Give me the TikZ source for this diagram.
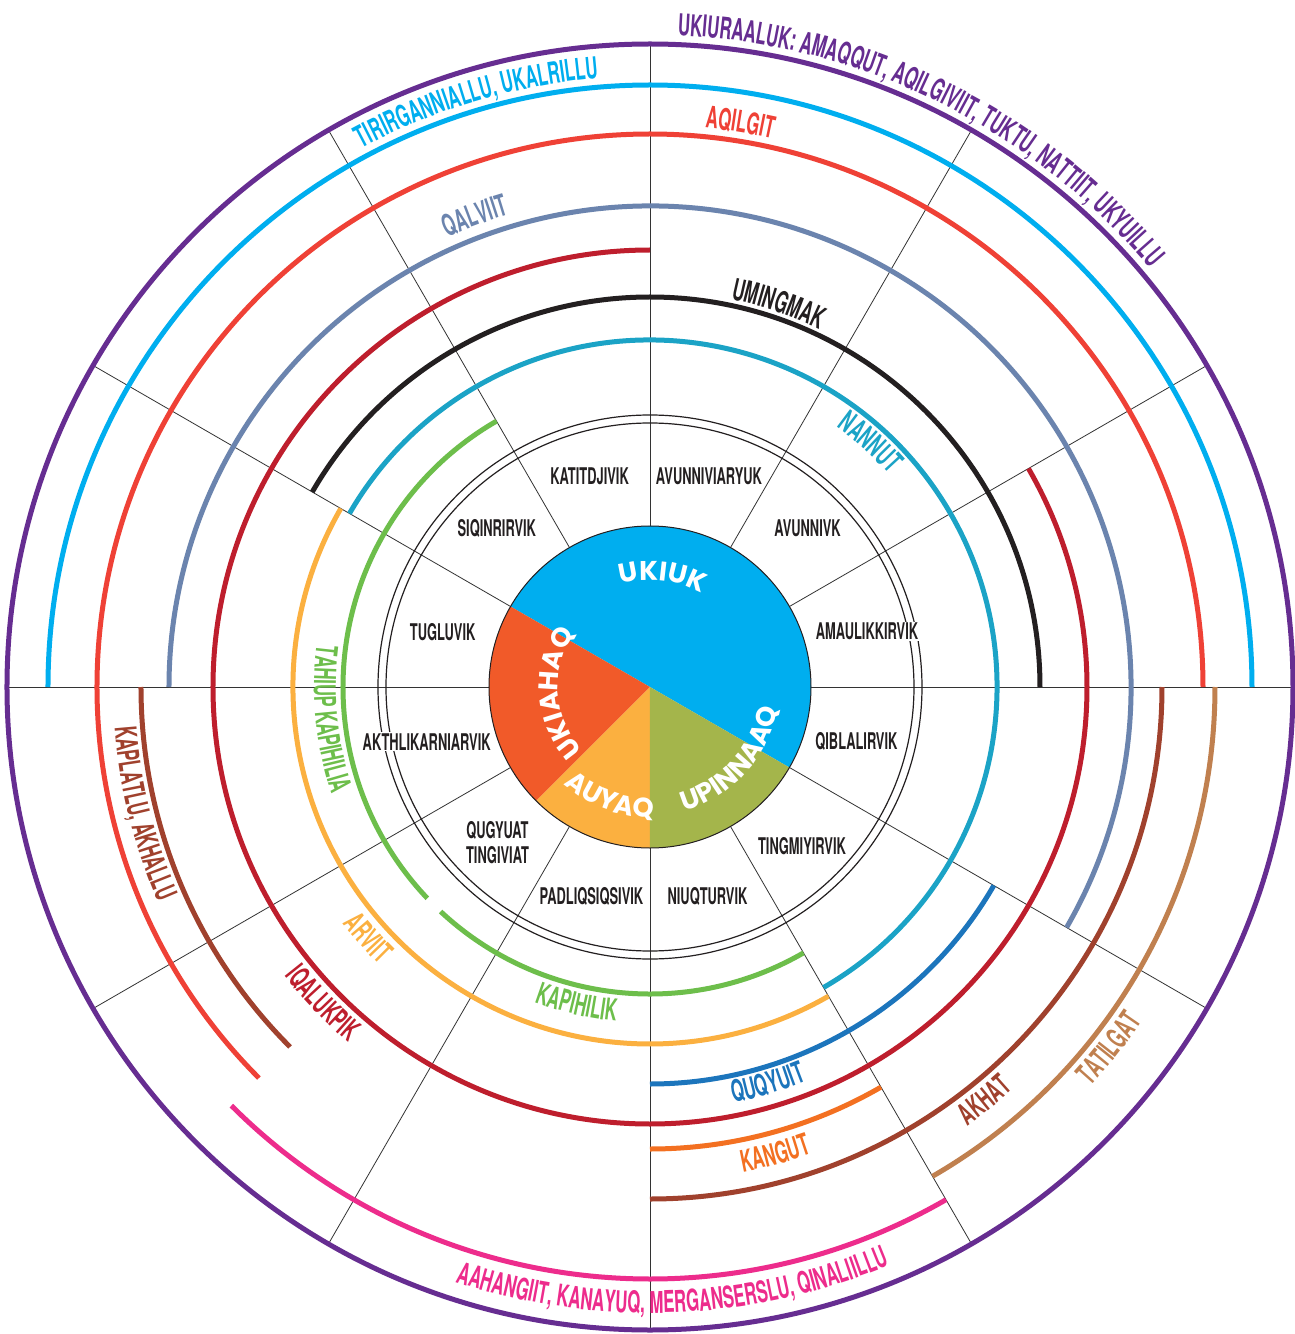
\documentclass[tikz,border=0pt]{standalone}
\usepackage{fontspec}
\usetikzlibrary{decorations.text}
\newfontfamily\condfont{TeX Gyre Heros}[FakeStretch=0.56]
\newfontfamily\discfont{Poppins}
\newcommand\arcfont{\condfont\bfseries\fontsize{30}{32}\selectfont}
\newcommand\monthfont{\condfont\bfseries\fontsize{23}{25}\selectfont}
\newcommand\discsize{\discfont\bfseries\fontsize{27}{27}\selectfont}

\definecolor{purp}{HTML}{662D91}
\definecolor{cyanc}{HTML}{00AEEF}
\definecolor{redc}{HTML}{EF4136}
\definecolor{slate}{HTML}{6B84AE}
\definecolor{crim}{HTML}{BE1E2D}
\definecolor{blk}{HTML}{231F20}
\definecolor{teal}{HTML}{1BA3C6}
\definecolor{grn}{HTML}{6DBE4B}
\definecolor{arv}{HTML}{FBB040}
\definecolor{quq}{HTML}{1C75BC}
\definecolor{kang}{HTML}{F37021}
\definecolor{brwn}{HTML}{A0412D}
\definecolor{tan}{HTML}{C0804F}
\definecolor{pink}{HTML}{ED2C8C}
\definecolor{dblue}{HTML}{00AEEF}
\definecolor{dred}{HTML}{F15A29}
\definecolor{dyel}{HTML}{FBB040}
\definecolor{dgrn}{HTML}{A4B54B}
\definecolor{ink}{HTML}{231F20}

\tikzset{
	ring/.style={line width=5pt},
	spoke/.style={color=black!80, line width=0.8pt},
	month/.style={fill=white,inner sep=1pt,font=\monthfont,text=ink,align=center},
	arclbl/.style 2 args={decorate,decoration={text along path,text align=center,text color=#1,text={|\arcfont|#2}}},
	disclbl/.style={decorate,decoration={text along path,text align=center,text color=white,text={|\discsize|#1}}}
}

\begin{document}
\begin{tikzpicture}[x=1pt,y=1pt]
		\useasboundingbox (-650,-647) rectangle (644,687);
		\fill[white] (-650,-647) rectangle (644,687);
		
		%%%spokes and month ring
		\foreach \a in {0,30,...,330}
		\draw[spoke] (\a:161pt) -- (\a:643pt);
		\draw[line width=1.2pt,ink] (0,0) circle[radius=264pt];
		\draw[line width=1.2pt,ink] (0,0) circle[radius=272pt];
		
		%%%animal arcs
		\draw[ring,purp] (0,0) circle[radius=643pt];
		\draw[ring,cyanc] (0:602pt) arc[start angle=0,end angle=180,radius=602pt];
		\draw[ring,pink] (225:592pt) arc[start angle=225,end angle=300,radius=592pt];
		\draw[ring,tan] (300:565pt) arc[start angle=300,end angle=360,radius=565pt];
		\draw[ring,redc] (0:553pt) arc[start angle=0,end angle=225,radius=553pt];
		\draw[ring,brwn] (270:512pt) arc[start angle=270,end angle=360,radius=512pt];
		\draw[ring,brwn] (180:509pt) arc[start angle=180,end angle=225,radius=509pt];
		\draw[ring,slate] (-30:481pt) arc[start angle=-30,end angle=180,radius=481pt];
		\draw[ring,kang] (270:462pt) arc[start angle=270,end angle=300,radius=462pt];
		\draw[ring,crim] (90:437pt) arc[start angle=90,end angle=390,radius=437pt];
		\draw[ring,quq] (270:397pt) arc[start angle=270,end angle=330,radius=397pt];
		\draw[ring,blk] (0:390pt) arc[start angle=0,end angle=150,radius=390pt];
		\draw[ring,arv] (150:357pt) arc[start angle=150,end angle=300,radius=357pt];
		\draw[ring,teal] (-60:347pt) arc[start angle=-60,end angle=150,radius=347pt];
		\draw[ring,grn] (120:307pt) arc[start angle=120,end angle=223.5,radius=307pt];
		\draw[ring,grn] (227:307pt) arc[start angle=227,end angle=300,radius=307pt];
		
		%%%months
		\node[month] (katit) at (-60.4,210.3) {KATITDJIVIK};
		\node[month] (avunnivi) at (59,210.3) {AVUNNIVIARYUK};
		\node[month] (siqin) at (-153.2,159) {SIQINRIRVIK};
		\node[month] (avunni) at (157.5,159) {AVUNNIVK};
		\node[month] (tugl) at (-207.3,55.3) {TUGLUVIK};
		\node[month] (amaul) at (217,55.3) {AMAULIKKIRVIK};
		\node[month] (akth) at (-223.3,-54.7) {AKTHLIKARNIARVIK};
		\node[month] (qibl) at (206.4,-54.7) {QIBLALIRVIK};
		\node[month] (qugy) at (-152.5,-155.5) {QUGYUAT\\TINGIVIAT};
		\node[month] (tingm) at (152,-158.7) {TINGMIYIRVIK};
		\node[month] (padl) at (-58.6,-209) {PADLIQSIQSIVIK};
		\node[month] (niuq) at (57.5,-209) {NIUQTURVIK};
		
		%%%arc labels, top
		\path[arclbl={purp}{UKIURAALUK: AMAQQUT, AQILGIVIIT, TUKTU, NATTIIT, UKYUILLU}] (103.8:652pt) arc[start angle=103.8,end angle=23.8,radius=652pt];
		\path[arclbl={cyanc}{TIRIRGANNIALLU, UKALRILLU}] (136.5:611pt) arc[start angle=136.5,end angle=76.5,radius=611pt];
		\path[arclbl={redc}{AQILGIT}] (95.9:562pt) arc[start angle=95.9,end angle=65.9,radius=562pt];
		\path[arclbl={slate}{QALVIIT}] (125.4:493pt) arc[start angle=125.4,end angle=95.4,radius=493pt];
		\path[arclbl={blk}{UMINGMAK}] (91.4:396pt) arc[start angle=91.4,end angle=51.4,radius=396pt];
		\path[arclbl={teal}{NANNUT}] (68:320pt) arc[start angle=68,end angle=28,radius=320pt];
		
		%%%arc labels, bottom
		\path[arclbl={pink}{AAHANGIIT, KANAYUQ, MERGANSERSLU, QINALIILLU}] (237.2:626pt) arc[start angle=237.2,end angle=307.2,radius=626pt];
		\path[arclbl={tan}{TATILGAT}] (306.8:595pt) arc[start angle=306.8,end angle=336.8,radius=595pt];
		\path[arclbl={brwn}{AKHAT}] (297:542pt) arc[start angle=297,end angle=321,radius=542pt];
		\path[arclbl={kang}{KANGUT}] (270:494pt) arc[start angle=270,end angle=300,radius=494pt];
		\path[arclbl={quq}{QUQYUIT}] (271.5:424pt) arc[start angle=271.5,end angle=301.5,radius=424pt];
		\path[arclbl={crim}{IQALUKPIK}] (204:466pt) arc[start angle=204,end angle=244,radius=466pt];
		\path[arclbl={arv}{ARVIIT}] (206.7:388pt) arc[start angle=206.7,end angle=236.7,radius=388pt];
		\path[arclbl={grn}{KAPIHILIK}] (237:336pt) arc[start angle=237,end angle=277,radius=336pt];
		\path[arclbl={grn}{TAHIUP KAPIHILIA}] (160.7:336pt) arc[start angle=160.7,end angle=210.7,radius=336pt];
		\path[arclbl={brwn}{KAPLATLU, AKHALLU}] (174:537pt) arc[start angle=174,end angle=214,radius=537pt];
		
		%%%seasons
		\fill[dblue] (0,0) -- (-30:161pt) arc[start angle=-30,end angle=150,radius=161pt] -- cycle;
		\fill[dred] (0,0) -- (150:161pt) arc[start angle=150,end angle=225,radius=161pt] -- cycle;
		\fill[dyel] (0,0) -- (225:161pt) arc[start angle=225,end angle=270,radius=161pt] -- cycle;
		\fill[dgrn] (0,0) -- (270:161pt) arc[start angle=270,end angle=330,radius=161pt] -- cycle;
		\draw[line width=1pt,ink] (0,0) circle[radius=161pt];
		
		\path[disclbl={UKIUK}] (123.5:107pt) arc[start angle=123.5,end angle=43.5,radius=107pt];
		\path[disclbl={UKIAHAQ}] (234:92pt) arc[start angle=234,end angle=134,radius=92pt];
		\path[disclbl={AUYAQ}] (215:130pt) arc[start angle=215,end angle=285,radius=130pt];
		\path[disclbl={UPINNAAQ}] (268:129pt) arc[start angle=268,end angle=368,radius=129pt];
	\end{tikzpicture}
\end{document}
